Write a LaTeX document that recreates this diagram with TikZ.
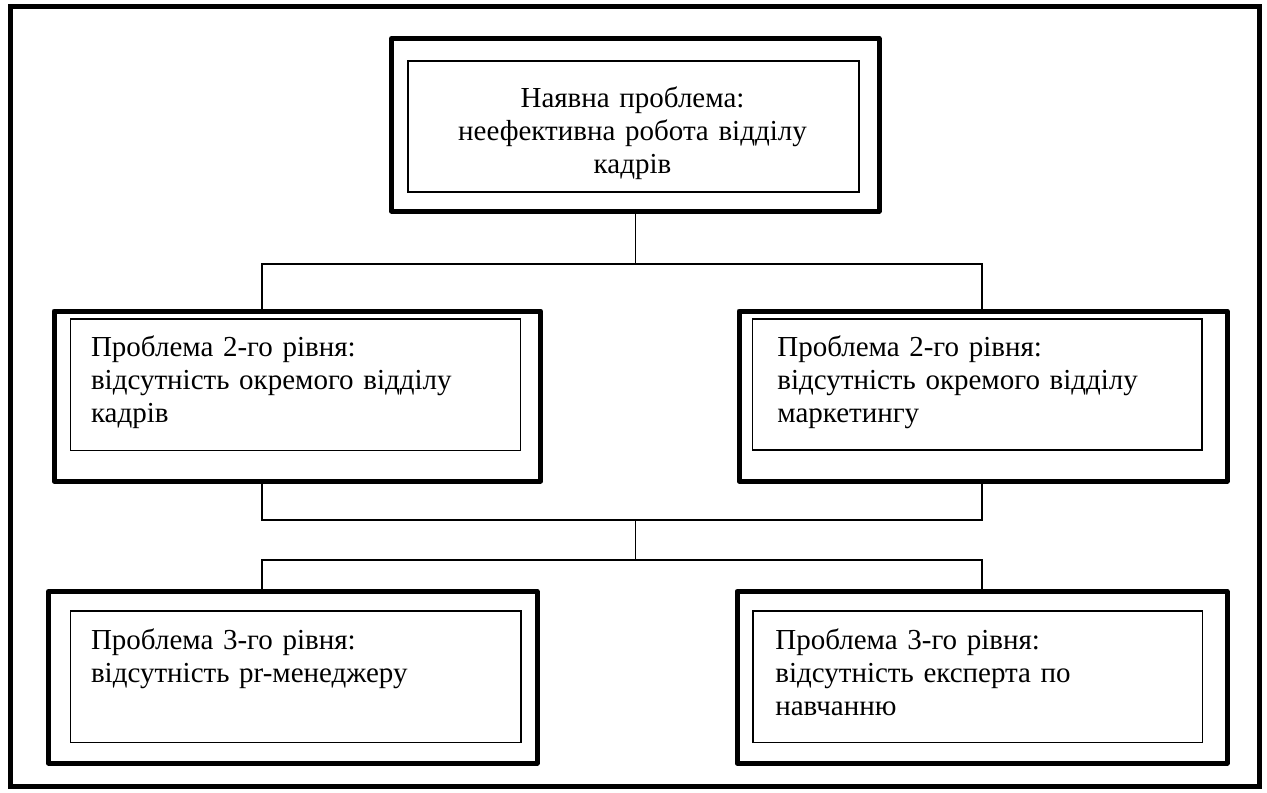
\documentclass[tikz,border=0pt]{standalone}
\usepackage{fontspec}
\setmainfont{Liberation Serif}

\begin{document}
\begin{tikzpicture}[
  outerbox/.style={draw=black, rectangle, line width=0.1cm, line join=round, inner sep=0pt},
  innerbox/.style={draw=black, rectangle, line width=0.6pt, inner sep=0pt},
  boxtext/.style={inner sep=0pt, text width=8.6cm, align=left, anchor=base west, font=\fontsize{16.5}{18.8}\selectfont},
  link/.style={draw=black, line width=0.75pt},
]
\useasboundingbox (0,0) rectangle (25.34,-15.84);
% page frame
\draw[line width=0.1cm] (0.21,-0.134) rectangle (25.19,-15.72);

% top problem
\node[outerbox, minimum width=9.75cm, minimum height=3.45cm] (top) at (12.705,-2.495) {};
\node[innerbox, minimum width=9.02cm, minimum height=2.62cm] (top-in) at (12.67,-2.53) {};
\node[boxtext, text width=9cm, align=center, anchor=base] (top-txt) at (12.65,-2.14) {Наявна проблема:\\неефективна робота відділу\\кадрів};

% level 2
\node[outerbox, minimum width=9.73cm, minimum height=3.4cm] (l2a) at (5.945,-7.92) {};
\node[innerbox, minimum width=9.0cm, minimum height=2.634cm] (l2a-in) at (5.914,-7.697) {};
\node[boxtext] (l2a-txt) at (1.814,-7.134) {Проблема 2-го рівня:\\відсутність окремого відділу\\кадрів};
\node[outerbox, minimum width=9.76cm, minimum height=3.4cm] (l2b) at (19.66,-7.92) {};
\node[innerbox, minimum width=8.986cm, minimum height=2.62cm] (l2b-in) at (19.547,-7.69) {};
\node[boxtext] (l2b-txt) at (15.54,-7.134) {Проблема 2-го рівня:\\відсутність окремого відділу\\маркетингу};

% level 3
\node[outerbox, minimum width=9.77cm, minimum height=3.43cm] (l3a) at (5.855,-13.545) {};
\node[innerbox, minimum width=9.006cm, minimum height=2.634cm] (l3a-in) at (5.917,-13.537) {};
\node[boxtext] (l3a-txt) at (1.814,-12.98) {Проблема 3-го рівня:\\відсутність pr-менеджеру};
\node[outerbox, minimum width=9.8cm, minimum height=3.43cm] (l3b) at (19.64,-13.545) {};
\node[innerbox, minimum width=8.994cm, minimum height=2.634cm] (l3b-in) at (19.557,-13.537) {};
\node[boxtext] (l3b-txt) at (15.5,-12.98) {Проблема 3-го рівня:\\відсутність експерта по\\навчанню};

% connectors
\coordinate (j1) at (12.705,-5.28);
\coordinate (j2) at (12.705,-10.4);
\coordinate (j3) at (12.705,-11.2);
\coordinate (ba) at (5.24,-5.28);
\coordinate (bb) at (19.64,-5.28);
\draw[link] (top.south) -- (j1);
\draw[link] (ba |- l2a.north) -- (ba) -- (bb) -- (bb |- l2b.north);
\draw[link] (ba |- l2a.south) -- (ba |- j2) -- (bb |- j2) -- (bb |- l2b.south);
\draw[link] (j2) -- (j3);
\draw[link] (ba |- l3a.north) -- (ba |- j3) -- (bb |- j3) -- (bb |- l3b.north);
\end{tikzpicture}
\end{document}
